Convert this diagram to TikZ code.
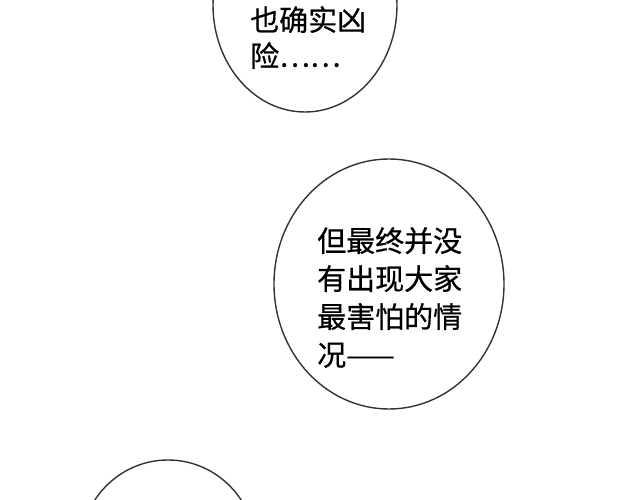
\documentclass[tikz,border=0pt]{standalone}
\usepackage{fontspec}
\newfontfamily\cjk[FakeBold=0.6]{Noto Sans CJK SC}
\tikzset{
    bubble/.style={draw=black!80, line width=1.4pt},
    words/.style={font=\cjk\fontsize{29}{38}\selectfont, align=left, inner sep=0pt, anchor=north west}
}

\begin{document}
\begin{tikzpicture}[x=1pt,y=-1pt]
    \useasboundingbox (0,0) rectangle (640,500);
    \fill[white] (0,0) rectangle (640,500);
    \draw[bubble] (305,5) ellipse [x radius=92, y radius=107];
    \draw[bubble] (389,284) ellipse [x radius=115, y radius=125];
    \draw[bubble] (168,550) ellipse [x radius=88, y radius=90];
    \node[words] (top) at (250,6) {也确实凶\\[-2pt]险……};
    \node[words] (mid) at (317,227) {但最终并没\\有出现大家\\最害怕的情\\况——};
\end{tikzpicture}
\end{document}
